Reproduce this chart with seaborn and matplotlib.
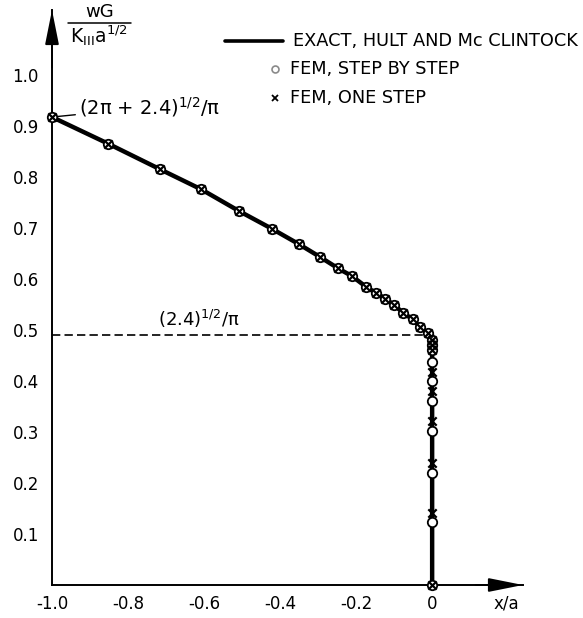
import numpy as np
import pandas as pd
import matplotlib
matplotlib.use("Agg")
import matplotlib.pyplot as plt
from matplotlib.lines import Line2D
import seaborn as sns

# ── data ─────────────────────────────────────────────────────────────────────
# exact solution (Hult & McClintock): curved part, then straight down along x=0
exact_x = [-1.0, -0.853, -0.717, -0.607, -0.509, -0.422, -0.349, -0.296,
           -0.247, -0.211, -0.174, -0.148, -0.124, -0.100, -0.076, -0.051,
           -0.032, -0.012, 0.0, 0.0]
exact_y = [0.918, 0.866, 0.816, 0.776, 0.734, 0.699, 0.668, 0.644,
           0.621, 0.606, 0.585, 0.573, 0.562, 0.549, 0.534, 0.521,
           0.506, 0.494, 0.490, 0.0]

# FEM, step by step (circles)
step_x = [-1.0, -0.853, -0.717, -0.607, -0.509, -0.422, -0.349, -0.296,
          -0.247, -0.211, -0.174, -0.148, -0.124, -0.100, -0.076, -0.051,
          -0.032, -0.012, 0.0, 0.0, 0.0, 0.0, 0.0, 0.0, 0.0, 0.0, 0.0, 0.0]
step_y = [0.918, 0.866, 0.816, 0.776, 0.734, 0.699, 0.668, 0.644,
          0.621, 0.606, 0.585, 0.573, 0.562, 0.549, 0.534, 0.521,
          0.506, 0.494, 0.480, 0.471, 0.461, 0.438, 0.400, 0.360,
          0.302, 0.220, 0.124, 0.0]

# FEM, one step (crosses)
one_x = [-1.0, -0.853, -0.717, -0.607, -0.509, -0.422, -0.349, -0.296,
         -0.247, -0.211, -0.174, -0.148, -0.124, -0.100, -0.076, -0.051,
         -0.032, -0.012, 0.0, 0.0, 0.0, 0.0, 0.0, 0.0, 0.0, 0.0, 0.0]
one_y = [0.918, 0.866, 0.816, 0.776, 0.734, 0.699, 0.668, 0.644,
         0.621, 0.606, 0.585, 0.573, 0.562, 0.549, 0.534, 0.521,
         0.506, 0.494, 0.480, 0.471, 0.461, 0.418, 0.381, 0.322,
         0.239, 0.142, 0.0]

corner_y = 0.490          # (2.4)^1/2 / pi level
x_ticks  = [-1.0, -0.8, -0.6, -0.4, -0.2, 0.0]
x_labels = ["-1.0", "-0.8", "-0.6", "-0.4", "-0.2", "0"]
y_ticks  = [0.1, 0.2, 0.3, 0.4, 0.5, 0.6, 0.7, 0.8, 0.9, 1.0]

W, H = 583, 618


def fx(px):  # pixel -> figure fraction
    return px / W


def fy(py):
    return 1 - py / H


# ─────────────────────────────────────────────────────────────────────────────
sns.set_theme(style="white")
plt.rcParams["font.family"] = ["DejaVu Sans"]
plt.rcParams["mathtext.fontset"] = "dejavusans"
plt.rcParams["text.color"] = "black"

fig = plt.figure(figsize=(W / 100, H / 100), dpi=100)
ax = fig.add_axes([fx(52), fy(585), fx(523) - fx(52), fy(10) - fy(585)])

exact = pd.DataFrame({"x": exact_x, "y": exact_y})
step  = pd.DataFrame({"x": step_x,  "y": step_y})
one   = pd.DataFrame({"x": one_x,   "y": one_y})

sns.lineplot(data=exact, x="x", y="y", sort=False, estimator=None,
             color="black", lw=3.2, ax=ax, zorder=3, clip_on=False)
sns.scatterplot(data=step, x="x", y="y", marker="o", s=46,
                facecolor="white", edgecolor="black", linewidth=1.3,
                ax=ax, zorder=4, clip_on=False)
sns.scatterplot(data=one, x="x", y="y", marker="x", s=36,
                color="black", linewidth=1.6, ax=ax, zorder=5, clip_on=False)

# dashed level of the corner
ax.plot([-1.0, 0.0], [corner_y, corner_y], color="black", lw=1.2,
        ls=(0, (5, 2.5)), zorder=2)

ax.set_xlim(-1.0, 0.239)
ax.set_ylim(0.0, 1.128)
ax.set_xticks(x_ticks)
ax.set_xticklabels(x_labels)
ax.set_yticks(y_ticks)
ax.set_yticklabels([f"{v:.1f}" for v in y_ticks])
ax.tick_params(direction="inout", length=9, width=1.3, color="black",
               labelsize=12, labelcolor="black", pad=3)
ax.tick_params(axis="y", pad=5)
ax.set_xlabel(""); ax.set_ylabel("")
for s in ["top", "right"]:
    ax.spines[s].set_visible(False)
for s in ["left", "bottom"]:
    ax.spines[s].set_color("black")
    ax.spines[s].set_linewidth(1.4)
ax.patch.set_alpha(0)

# axis arrow heads
arrow = dict(arrowstyle="-|>,head_length=1.5,head_width=0.3", color="black",
             lw=1.4, mutation_scale=14, shrinkA=0, shrinkB=0)
ax.annotate("", xy=(1, 0), xytext=(0.9, 0), xycoords="axes fraction",
            arrowprops=arrow)
ax.annotate("", xy=(0, 1), xytext=(0, 0.9), xycoords="axes fraction",
            arrowprops=arrow)

# annotations
ax.annotate("(2π + 2.4)$^{1/2}$/π", xy=(-1.0, 0.918),
            xytext=(-0.93, 0.937), fontsize=14, va="center", ha="left",
            color="black",
            arrowprops=dict(arrowstyle="-", color="black", lw=1.0,
                            shrinkA=0, shrinkB=3))
ax.text(-0.72, 0.500, "(2.4)$^{1/2}$/π", fontsize=13, va="bottom",
        ha="left", color="black")
ax.text(0.195, -0.018, "x/a", fontsize=12, va="top", ha="center",
        color="black")

# y label as a fraction
fig.text(fx(100), fy(12), "wG", fontsize=13, ha="center", va="center",
         color="black")
fig.add_artist(Line2D([fx(68), fx(131)], [fy(23), fy(23)], color="black",
                      lw=1.1))
fig.text(fx(99), fy(36), "K$_{\\mathrm{III}}$a$^{1/2}$", fontsize=13.5,
         ha="center", va="center", color="black")

# legend
fig.add_artist(Line2D([fx(225), fx(283)], [fy(41), fy(41)], color="black",
                      lw=2.6))
fig.text(fx(293), fy(41), "EXACT, HULT AND Mc CLINTOCK", fontsize=12.8,
         va="center", ha="left", color="black")
fig.add_artist(Line2D([fx(275)], [fy(69)], marker="o", ms=5, mfc="white",
                      mec="#8a8a8a", mew=1.2, ls="none"))
fig.text(fx(290), fy(69), "FEM, STEP BY STEP", fontsize=12.8, va="center",
         ha="left", color="black")
fig.add_artist(Line2D([fx(275)], [fy(98)], marker="x", ms=5, color="black",
                      mew=1.3, ls="none"))
fig.text(fx(290), fy(98), "FEM, ONE STEP", fontsize=12.8, va="center",
         ha="left", color="black")

fig.savefig("out.png", dpi=100)
plt.close(fig)
